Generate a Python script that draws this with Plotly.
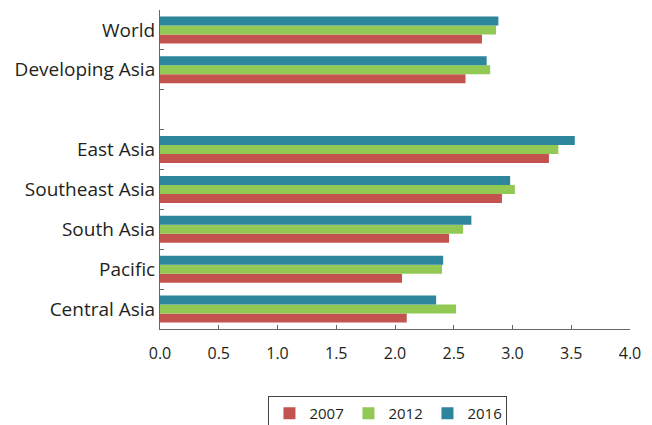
import plotly.graph_objects as go

categories = ["World", "Developing Asia", " ", "East Asia", "Southeast Asia",
              "South Asia", "Pacific", "Central Asia"]
v2007 = [2.74, 2.60, None, 3.31, 2.91, 2.46, 2.06, 2.10]
v2012 = [2.86, 2.81, None, 3.39, 3.02, 2.58, 2.40, 2.52]
v2016 = [2.88, 2.78, None, 3.53, 2.98, 2.65, 2.41, 2.35]
series = [("2007", v2007, "#C3534F"), ("2012", v2012, "#92C955"), ("2016", v2016, "#2E869C")]
xticks = [0, 0.5, 1.0, 1.5, 2.0, 2.5, 3.0, 3.5, 4.0]

fig = go.Figure()
for name, vals, col in series:
    fig.add_trace(go.Bar(y=categories, x=vals, name=name, orientation="h",
                         marker=dict(color=col, line=dict(width=0))))

# page body has an 8px default margin; offsets compensate for it
fig.update_layout(
    width=644, height=425,
    margin=dict(l=152, r=22, t=2, b=100),
    plot_bgcolor="white", paper_bgcolor="white",
    barmode="group", bargap=0.32, bargroupgap=0,
    font=dict(family="Open Sans, sans-serif", color="#231F20"),
    showlegend=True,
    legend=dict(orientation="h", x=0.485, xanchor="center", y=-0.21, yanchor="top",
                bordercolor="#444444", borderwidth=1, font=dict(size=15),
                itemwidth=30, entrywidthmode="pixels", entrywidth=34),
)
fig.update_xaxes(range=[0, 4.0], tickvals=xticks, ticktext=[f"{t:.1f}" for t in xticks],
                 showgrid=False, zeroline=False, showline=True, linecolor="#666666",
                 ticks="inside", ticklen=4, tickcolor="#666666",
                 tickfont=dict(size=16), ticklabelstandoff=10)
fig.update_yaxes(categoryorder="array", categoryarray=categories[::-1],
                 showgrid=False, showline=True, linecolor="#666666",
                 ticks="inside", ticklen=4, tickcolor="#666666", tickson="boundaries",
                 tickfont=dict(size=19), ticklabelstandoff=0)

fig.write_html("out.html")
